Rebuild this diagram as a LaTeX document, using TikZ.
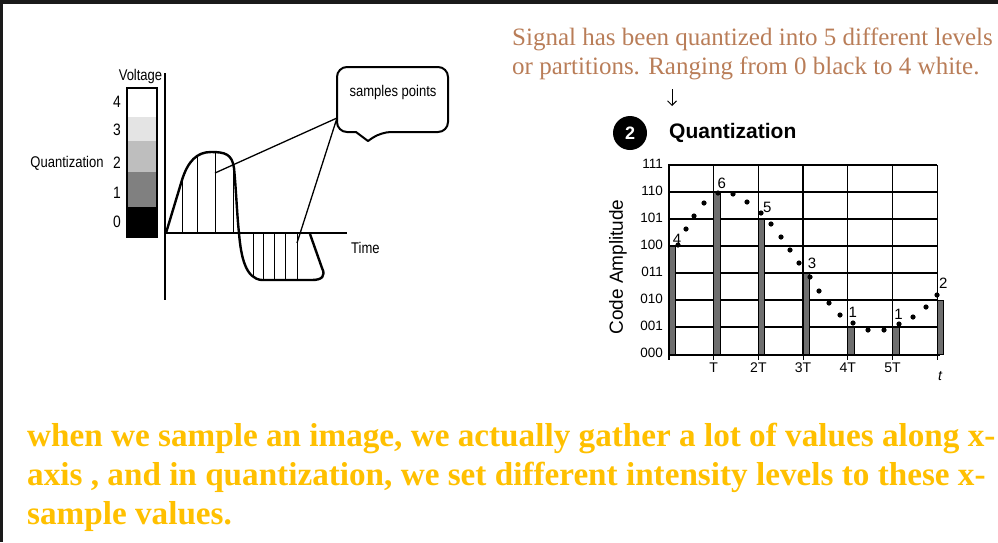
\documentclass[tikz,border=0pt]{standalone}
\usepackage{fontspec}
\setmainfont{Liberation Serif}
\setsansfont{Liberation Sans}
\usepackage{graphicx}
\usetikzlibrary{arrows.meta,positioning,calc}
\definecolor{notebrown}{RGB}{185,125,88}
\definecolor{noteyellow}{RGB}{255,192,0}
\definecolor{framegray}{RGB}{26,26,26}
\definecolor{bargray}{RGB}{110,110,110}
\definecolor{tonethree}{RGB}{228,228,228}
\definecolor{tonetwo}{RGB}{190,190,190}
\definecolor{toneone}{RGB}{128,128,128}
\tikzset{
  lbl/.style     = {font=\sffamily\fontsize{13.5}{15}\selectfont, inner sep=1pt},
  leftlbl/.style = {font=\sffamily\fontsize{15.5}{17}\selectfont, inner sep=1pt},
  wave/.style    = {line width=2.4pt, line join=round},
  axis/.style    = {line width=2.3pt},
  sample/.style  = {line width=1pt},
  pointer/.style = {line width=1.3pt},
  callout/.style = {line width=2pt, line join=round},
  gridline/.style= {line width=1.3pt},
  qbar/.style    = {draw, line width=0.9pt, fill=bargray},
  note/.style    = {anchor=base west, inner sep=0pt, text=notebrown,
                    font=\fontsize{25}{29}\selectfont},
  remark/.style  = {anchor=base west, inner sep=0pt, text=noteyellow,
                    font=\bfseries\fontsize{33.2}{39}\selectfont},
}
\newcommand{\nar}[1]{\scalebox{0.84}[1]{#1}}
\newcommand{\wavepath}{(166,233) -- (182,180) .. controls (188,161) and (197,152) .. (211,152)
  .. controls (225,152) and (232,154) .. (234,168) .. controls (236,188) and (237,215) .. (239,233)
  .. controls (241,258) and (246,279) .. (262,280) -- (312,280)
  .. controls (322,280) and (326,276) .. (322,268) -- (310,234)}

\begin{document}
\begin{tikzpicture}[x=1pt,y=-1pt]
\useasboundingbox (0,0) rectangle (998,542);
% ---- frame ----
\fill[framegray] (0,0) rectangle (998,4);
\fill[framegray] (0,0) rectangle (2.5,542);

% ---- voltage scale ----
\foreach \lev/\ytop/\ybot/\ylab/\tone in {4/88/117/102/white,3/117/141/130/tonethree,
    2/141/172/163/tonetwo,1/172/207/193/toneone,0/207/237/222/black}{
  \fill[\tone] (127,\ytop) rectangle (157,\ybot);
  \node[leftlbl, font=\sffamily\fontsize{16.5}{18}\selectfont] (v\lev) at (117,\ylab) {\nar{\lev}};
}
\draw[line width=2pt] (127,88) rectangle (157,237);
\node[leftlbl] (volt) at (140.5,76) {\nar{Voltage}};
\node[leftlbl] (quant) at (67,163) {\nar{Quantization}};

% ---- sampled signal ----
\coordinate (vtop) at (165,73);
\coordinate (vend) at (165,300);
\coordinate (tstart) at (165,233);
\coordinate (tend) at (347,233);
\draw[axis] (vtop) -- (vend);
\draw[axis] (tstart) -- (tend);
\node[leftlbl, anchor=west] (time) at (350,248) {\nar{Time}};
\begin{scope}
  \clip \wavepath -- cycle;
  \foreach \sx in {182,197,215,233,253,263,274,285,297}
    \draw[sample] (\sx,140) -- (\sx,290);
\end{scope}
\draw[wave] \wavepath;

% ---- callout ----
\draw[callout] (356,132) [rounded corners=10pt] -- (337,132) -- (337,67) -- (448,67)
  -- (448,132) -- (381,132) [sharp corners] -- (368,141) -- cycle;
\node[leftlbl] (callout) at (393,92) {\nar{samples points}};
\coordinate (tip) at (337,118);
\coordinate (peak) at (215,173);
\coordinate (trough) at (297,243);
\draw[pointer] (tip) -- (peak);
\draw[pointer] (tip) -- (trough);

% ---- note ----
\node[note] (note1) at (512,45) {Signal has been quantized into 5 different levels};
\node[note] (note2) at (512,74) {or partitions. Ranging from 0 black to 4 white.};
\coordinate (arrtop) at (672,89);
\coordinate (arrtip) at (672,106);
\draw[-{Straight Barb[length=4.5pt,width=9pt]}, line width=1pt] (arrtop) -- (arrtip);

% ---- quantization chart ----
\node[circle, fill=black, text=white, minimum size=34pt, inner sep=0pt,
      font=\sffamily\bfseries\fontsize{18}{18}\selectfont] (step) at (630,133) {2};
\node[anchor=west, inner sep=0pt, font=\sffamily\bfseries\fontsize{21}{24}\selectfont]
      (qhead) at (669,133) {Quantization};
\foreach \k in {0,...,6}
  \draw[gridline] (669+44.7*\k,165) -- (669+44.7*\k,354);
\foreach \lev in {1,...,7}
  \draw[gridline] (669,354-27*\lev) -- (937.2,354-27*\lev);
\draw[axis] (669,164) -- (669,356);
\draw[axis] (668,355) -- (940,355);
\foreach \k in {0,...,6}
  \draw[line width=1.2pt] (669+44.7*\k,355) -- (669+44.7*\k,360);
\foreach \lev/\bits in {0/000,1/001,2/010,3/011,4/100,5/101,6/110,7/111}
  \node[lbl, anchor=east] (c\bits) at (664,353-27*\lev) {\bits};
\foreach \k/\tl in {1/T,2/2T,3/3T,4/4T,5/5T}
  \node[lbl, font=\sffamily\fontsize{14}{15}\selectfont] (t\k) at (669+44.7*\k,368) {\tl};
\node[lbl, font=\sffamily\itshape\fontsize{14}{15}\selectfont] (tt) at (940,376) {t};
\node[lbl, font=\sffamily\fontsize{19}{21}\selectfont, rotate=90] (ylab) at (618,267) {Code Amplitude};
\foreach \k/\lev/\dx/\dy in {0/4/8/7,1/6/8/9,2/5/9/12,3/3/9/10,4/1/5/15,5/1/6/13,6/2/6/17}{
  \draw[qbar] (669+44.7*\k,354) rectangle ++(6.5,-27*\lev);
  \node[lbl, font=\sffamily\fontsize{15}{16}\selectfont] (b\k) at (669+44.7*\k+\dx,354-27*\lev-\dy) {\lev};
}
\foreach \p in {(678,245),(686,229),(694,216),(704,203),(718,193),(733,194),(747,202),
    (761,213),(771,224),(781,237),(790,250),(799,263),(810,277),(819,291),(829,303),
    (840,315),(853,323),(868,330),(884,330),(899,324),(913,317),(926,307),(937,295)}
  \fill \p circle (2.6pt);

% ---- remark ----
\node[remark] (rem1) at (27,446) {when we sample an image, we actually gather a lot of values along x-};
\node[remark] (rem2) at (27,485) {axis , and in quantization, we set different intensity levels to these x-};
\node[remark] (rem3) at (27,524) {sample values.};
\end{tikzpicture}
\end{document}
